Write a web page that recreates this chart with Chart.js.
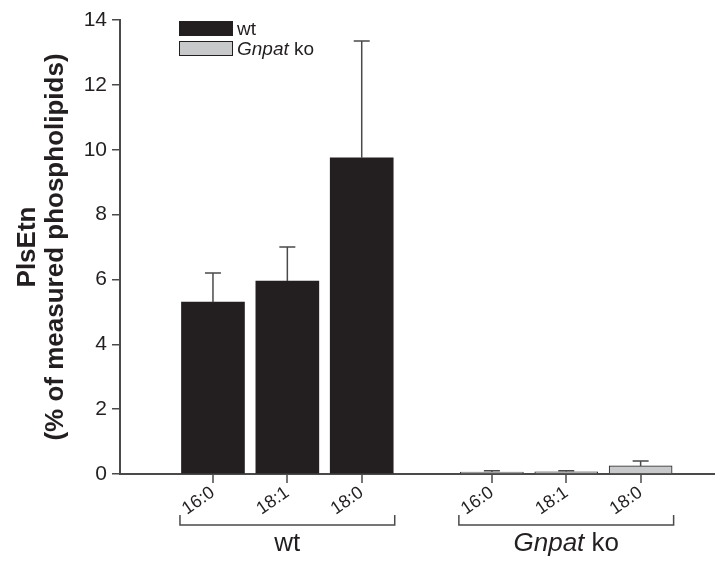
<!DOCTYPE html>
<html>
<head>
<meta charset="utf-8">
<script src="https://cdn.jsdelivr.net/npm/chart.js@4.4.1/dist/chart.umd.min.js"></script>
<style>
  html, body { margin: 0; padding: 0; background: #fff; }
  #wrap { width: 715px; height: 561px; }
</style>
</head>
<body>
<div id="wrap"><canvas id="plsetn" width="715" height="561"></canvas></div>
<script>
// PlsEtn species, wt vs Gnpat ko
var species = ["16:0", "18:1", "18:0"];
var groups = ["wt", "Gnpat ko"];
var wtMean = [5.3, 5.95, 9.75];
var wtSd = [0.9, 1.05, 3.6];
var koMean = [0.06, 0.07, 0.25];
var koSd = [0.04, 0.03, 0.15];
var yTicks = [0, 2, 4, 6, 8, 10, 12, 14];

var AXIS = '#4a4a4a';
var FONT = '"Liberation Sans", Arial, sans-serif';

// the x axis is split into small sub-slots so the gap between groups can be wider
var UNIT = 4, LEAD = 5, GAP = 7, TOTAL = 33;
var labels = [], wtData = [], koData = [], wtErr = [], koErr = [];
for (var k = 0; k < TOTAL; k++) {
    labels.push(''); wtData.push(null); koData.push(null); wtErr.push(null); koErr.push(null);
}
var groupIdx = [[], []];
species.forEach(function (s, i) {
    var a = LEAD + i * UNIT;
    var b = LEAD + (species.length - 1) * UNIT + GAP + i * UNIT;
    labels[a] = s; wtData[a] = wtMean[i]; wtErr[a] = wtSd[i];
    labels[b] = s; koData[b] = koMean[i]; koErr[b] = koSd[i];
    groupIdx[0].push(a); groupIdx[1].push(b);
});

// draw "Gnpat ko" with the gene name in italics
function mixedText(c, text, x, y, size, align) {
    var p = text.split(' ');
    c.font = 'italic ' + size + 'px ' + FONT;
    var w1 = c.measureText(p[0] + ' ').width;
    c.font = size + 'px ' + FONT;
    var w2 = c.measureText(p[1]).width;
    var sx = align === 'center' ? x - (w1 + w2) / 2 : x;
    c.textAlign = 'left';
    c.font = 'italic ' + size + 'px ' + FONT;
    c.fillText(p[0] + ' ', sx, y);
    c.font = size + 'px ' + FONT;
    c.fillText(p[1], sx + w1, y);
}

// error bars (upper only), x tick marks, brackets under each group, legend
var extras = {
    id: 'extras',
    afterDatasetsDraw: function (chart) {
        var c = chart.ctx;
        var x = chart.scales.x, y = chart.scales.y;
        var base = chart.chartArea.bottom;
        c.save();
        c.strokeStyle = AXIS;
        c.lineWidth = 1.5;
        [[wtData, wtErr], [koData, koErr]].forEach(function (pair) {
            pair[0].forEach(function (v, i) {
                if (v === null) return;
                var px = x.getPixelForValue(i);
                var top = y.getPixelForValue(v);
                var up = y.getPixelForValue(v + pair[1][i]);
                c.beginPath();
                c.moveTo(px, top);
                c.lineTo(px, up);
                c.moveTo(px - 8, up);
                c.lineTo(px + 8, up);
                c.stroke();
            });
        });

        // tick marks only under the named slots
        labels.forEach(function (lab, i) {
            if (!lab) return;
            var px = Math.round(x.getPixelForValue(i));
            c.beginPath();
            c.moveTo(px, base);
            c.lineTo(px, base + 9);
            c.stroke();
        });

        // group brackets
        groupIdx.forEach(function (idx, g) {
            var x0 = x.getPixelForValue(idx[0]) - 33;
            var x1 = x.getPixelForValue(idx[idx.length - 1]) + 33;
            c.strokeStyle = AXIS;
            c.lineWidth = 1.5;
            c.beginPath();
            c.moveTo(x0, 515);
            c.lineTo(x0, 525);
            c.lineTo(x1, 525);
            c.lineTo(x1, 515);
            c.stroke();
            c.fillStyle = '#231f20';
            c.textBaseline = 'middle';
            var mid = (x0 + x1) / 2;
            if (g === 0) {
                c.textAlign = 'center';
                c.font = '26px ' + FONT;
                c.fillText(groups[0], mid, 544);
            } else {
                mixedText(c, groups[1], mid, 544, 26, 'center');
            }
        });

        // legend
        chart.data.datasets.forEach(function (d, k) {
            var ly = 21 + k * 20;
            c.fillStyle = d.backgroundColor;
            c.fillRect(179, ly, 54, 15);
            c.strokeStyle = '#231f20';
            c.lineWidth = 1;
            c.strokeRect(179.5, ly + 0.5, 53, 14);
            c.fillStyle = '#231f20';
            c.textBaseline = 'middle';
            if (k === 0) {
                c.textAlign = 'left';
                c.font = '19px ' + FONT;
                c.fillText(d.label, 237, 30);
            } else {
                mixedText(c, d.label, 237, 50, 19, 'left');
            }
        });
        c.restore();
    }
};

var ctx = document.getElementById('plsetn').getContext('2d');
var chart = new Chart(ctx, {
    type: 'bar',
    data: {
        labels: labels,
        datasets: [{
            label: groups[0],
            data: wtData,
            backgroundColor: '#231f20',
            borderColor: '#231f20',
            borderWidth: 0,
            barThickness: 63
        }, {
            label: groups[1],
            data: koData,
            backgroundColor: '#c8c9cb',
            borderColor: '#231f20',
            borderWidth: 1,
            barThickness: 63
        }]
    },
    plugins: [extras],
    options: {
        responsive: false,
        animation: false,
        devicePixelRatio: 1,
        skipNull: true,
        layout: { padding: { top: 20, right: 0, left: 0, bottom: 0 } },
        plugins: {
            legend: { display: false },
            tooltip: { enabled: false }
        },
        scales: {
            x: {
                offset: false,
                grid: { display: false },
                border: { color: AXIS, width: 2 },
                ticks: {
                    minRotation: 35,
                    maxRotation: 35,
                    autoSkip: false,
                    color: '#231f20',
                    padding: 0,
                    font: { family: FONT, size: 18 }
                },
                afterFit: function (s) { s.height = 561 - 474; s.paddingRight = 0; }
            },
            y: {
                min: 0,
                max: 14,
                afterBuildTicks: function (s) {
                    s.ticks = yTicks.map(function (v) { return { value: v }; });
                },
                grid: { drawOnChartArea: false, tickLength: 8, color: AXIS, lineWidth: 1.5 },
                border: { color: AXIS, width: 2 },
                ticks: {
                    color: '#231f20',
                    padding: 5,
                    font: { family: FONT, size: 21 }
                },
                title: {
                    display: true,
                    text: ['PlsEtn', '(% of measured phospholipids)'],
                    color: '#231f20',
                    font: { family: FONT, size: 26, weight: 'bold', lineHeight: 1.08 },
                    padding: { top: 14, bottom: 4 }
                },
                afterFit: function (s) { s.width = 120; }
            }
        }
    }
});
</script>
</body>
</html>
